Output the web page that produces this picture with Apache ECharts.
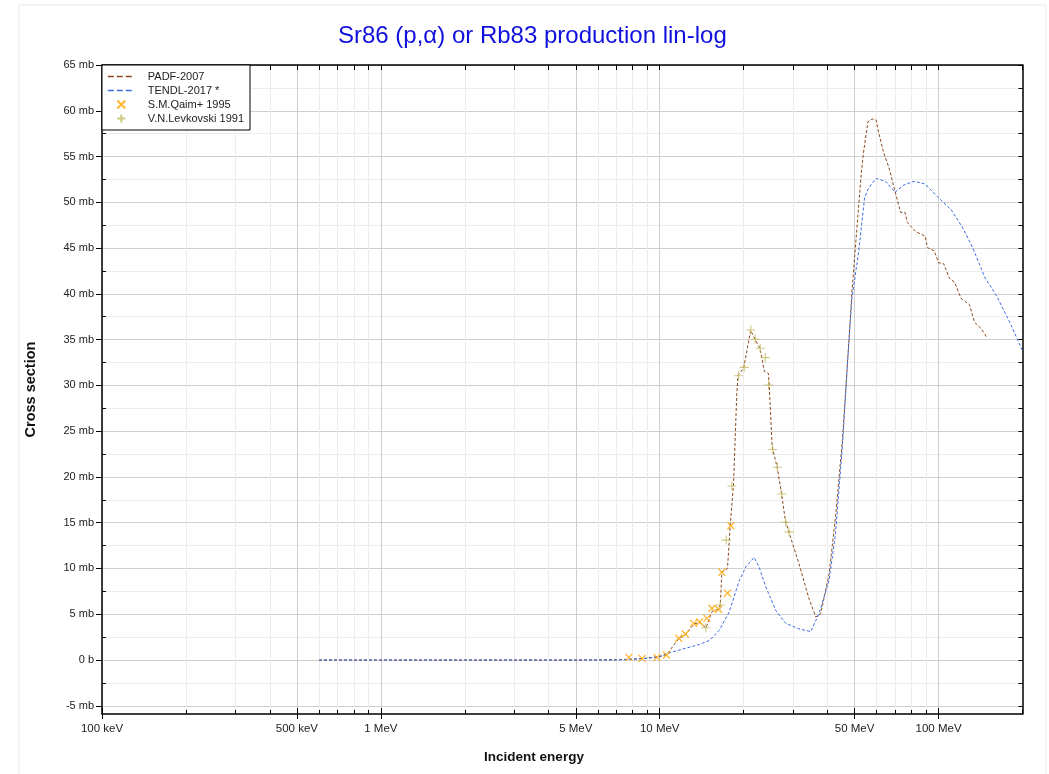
<!DOCTYPE html>
<html><head><meta charset="utf-8">
<script src="https://cdn.jsdelivr.net/npm/echarts@6/dist/echarts.min.js"></script>
<style>html,body{margin:0;padding:0;background:#fff}#c{width:1049px;height:774px}</style>
</head><body><div id="c"></div>
<script>
// ---- data (energy in MeV, cross section in mb) ----
const padfE = [0.6, 1, 2, 5, 7, 8, 9, 10, 10.6, 11.7, 12.4, 13.3, 13.9, 14.65, 15.4, 16.1, 16.5, 16.7, 17.5, 17.9, 18.4, 18.9, 19.1, 20.0, 21.2, 22.0, 22.9, 23.75, 24.55, 24.7, 25.3, 26.4, 27.4, 28.2, 28.9, 31.6, 34.3, 36.3, 37.8, 40.5, 42.7, 45.2, 46.9, 48.9, 50.3, 52.8, 53.9, 55.8, 57.8, 59.7, 61.1, 63.7, 66.4, 69.8, 73.1, 75.8, 77.3, 82.8, 89.5, 91.2, 96.5, 100, 104.3, 109.3, 114, 120.4, 129.1, 134.6, 142.2, 149.2];
const padfS = [0, 0, 0, 0, 0.02, 0.1, 0.2, 0.35, 0.6, 2.35, 2.8, 3.95, 4.1, 3.5, 5.3, 5.5, 6.0, 9.6, 10.0, 14.7, 19.3, 29.1, 31.1, 31.9, 36.0, 35.0, 34.0, 31.5, 31.3, 30.0, 23.3, 21.0, 18.0, 15.3, 14.2, 10.5, 6.7, 4.7, 5.06, 9.4, 15.6, 24.0, 31.4, 40.2, 45.0, 53.1, 55.6, 58.8, 59.1, 59.0, 57.5, 55.3, 53.8, 51.2, 48.9, 48.9, 47.8, 46.8, 46.3, 45.05, 44.7, 43.4, 43.3, 41.7, 41.3, 39.5, 38.8, 36.9, 36.2, 35.2];

const tendlE = [0.6, 1, 2, 5, 7, 8, 9, 10, 10.8, 12.1, 13.9, 15.1, 16.35, 17.75, 19.3, 20.4, 21.8, 22.7, 24.0, 26.1, 28.3, 31.6, 34.8, 37.3, 40.5, 42.7, 45.2, 47.05, 48.9, 51.7, 54.3, 56.2, 59.7, 64.5, 69.8, 75.2, 81.7, 89.5, 99.2, 110.9, 122.2, 132.7, 146.3, 161.3, 180, 200];
const tendlS = [0, 0, 0, 0, 0.02, 0.08, 0.18, 0.4, 0.76, 1.2, 1.7, 2.15, 3.24, 5.24, 8.7, 10.2, 11.2, 10.2, 8.0, 5.4, 4.0, 3.4, 3.1, 5.1, 8.7, 13.8, 23.3, 32.0, 39.5, 44.6, 50.5, 51.6, 52.6, 52.3, 51.1, 51.9, 52.3, 52.0, 50.6, 49.2, 47.2, 45.0, 41.85, 39.8, 36.9, 33.8];

const qaimE = [7.75, 8.64, 9.78, 10.57, 11.7, 12.36, 13.23, 13.9, 14.77, 15.39, 16.26, 16.71, 17.51, 18.0];
const qaimS = [0.29, 0.18, 0.29, 0.55, 2.37, 2.84, 4.0, 4.15, 4.55, 5.65, 5.54, 9.58, 7.29, 14.67];

const levkE = [14.64, 16.48, 17.32, 18.15, 19.17, 20.09, 21.22, 22.0, 22.93, 23.89, 24.55, 25.43, 26.43, 27.39, 28.31, 29.11];
const levkS = [3.53, 6.0, 13.1, 19.0, 31.06, 31.97, 36.05, 35.03, 34.05, 33.03, 30.04, 23.0, 21.05, 18.13, 15.04, 14.0];

const xMajorE = [0.1, 0.5, 1, 5, 10, 50, 100];
const xMajorLabels = ['100 keV', '500 keV', '1 MeV', '5 MeV', '10 MeV', '50 MeV', '100 MeV'];
const yMajor = [-5, 0, 5, 10, 15, 20, 25, 30, 35, 40, 45, 50, 55, 60, 65];
const yMinor = [-2.5, 2.5, 7.5, 12.5, 17.5, 22.5, 27.5, 32.5, 37.5, 42.5, 47.5, 52.5, 57.5, 62.5];
const seriesNames = ['PADF-2007', 'TENDL-2017 *', 'S.M.Qaim+ 1995', 'V.N.Levkovski 1991'];

// ---- axis helpers ----
const xMin = Math.log10(0.1), xMax = Math.log10(200);
const yMin = -5.9, yMax = 65;
const decades = [0.1, 1, 10, 100];
const xAllE = [];
decades.forEach(d => { for (let k = 1; k <= 9; k++) { const v = k * d; if (v <= 200.0001) xAllE.push(v); } });
const lg = v => Math.log10(v);
const xMajor = xMajorE.map(lg);
const xMinor = xAllE.filter(v => !xMajorE.some(m => Math.abs(m - v) < 1e-9)).map(lg);
const xAll = xAllE.map(lg);
const yAll = yMajor.concat(yMinor).sort((a, b) => a - b);

const baseFont = '"Liberation Sans", Arial, Helvetica, sans-serif';
const pairs = (E, S) => E.map((e, i) => [lg(e), S[i]]);

const xCommon = { type: 'value', min: xMin, max: xMax, gridIndex: 0 };
const yCommon = { type: 'value', min: yMin, max: yMax, gridIndex: 0 };

const chart = echarts.init(document.getElementById('c'), null, { renderer: 'canvas' });
chart.setOption({
  animation: false,
  backgroundColor: '#fff',
  title: {
    text: 'Sr86 (p,\u03b1) or Rb83 production lin-log',
    left: 333, top: 19,
    textStyle: { color: '#1010dd', fontSize: 24, fontWeight: 'normal', fontFamily: baseFont }
  },
  grid: { left: 102, right: 26.5, top: 65, bottom: 60, containLabel: false },
  legend: {
    orient: 'vertical', left: 102, top: 65,
    padding: [6, 6, 6, 5], itemGap: 3, itemWidth: 27, itemHeight: 8,
    backgroundColor: '#fff', borderColor: '#000', borderWidth: 1, borderRadius: 0,
    lineStyle: { type: [6, 3], width: 1.6 },
    textStyle: { fontSize: 11, color: '#222', fontFamily: baseFont, padding: [0, 0, 0, 8] },
    data: seriesNames, z: 10
  },
  xAxis: [
    Object.assign({}, xCommon, {
      position: 'bottom',
      axisLine: { show: true, onZero: false, lineStyle: { color: '#000', width: 1.5 } },
      axisTick: { show: true, inside: false, length: 5, customValues: xMajor, lineStyle: { color: '#000' } },
      axisLabel: {
        show: true, customValues: xMajor, margin: 9, color: '#222', fontSize: 11.5, fontFamily: baseFont,
        formatter: v => { const i = xMajor.findIndex(m => Math.abs(m - v) < 1e-6); return i >= 0 ? xMajorLabels[i] : ''; }
      },
      splitLine: { show: true, lineStyle: { color: '#cfcfcf', width: 1 } }
    }),
    Object.assign({}, xCommon, {
      position: 'bottom',
      axisLine: { show: false, onZero: false },
      axisTick: { show: true, inside: true, length: 4, customValues: xMinor, lineStyle: { color: '#000' } },
      axisLabel: { show: false },
      splitLine: { show: true, lineStyle: { color: '#ededed', width: 1 } }
    }),
    Object.assign({}, xCommon, {
      position: 'bottom',
      axisLine: { show: false, onZero: false },
      axisTick: { show: true, inside: true, length: 6, customValues: xMajor, lineStyle: { color: '#000' } },
      axisLabel: { show: false },
      splitLine: { show: false }
    }),
    Object.assign({}, xCommon, {
      position: 'top',
      axisLine: { show: true, onZero: false, lineStyle: { color: '#000', width: 1.5 } },
      axisTick: { show: true, inside: true, length: 5, customValues: xAll, lineStyle: { color: '#000' } },
      axisLabel: { show: false },
      splitLine: { show: false }
    })
  ],
  yAxis: [
    Object.assign({}, yCommon, {
      position: 'left',
      name: 'Cross section', nameLocation: 'middle', nameGap: 64,
      nameTextStyle: { fontWeight: 'bold', fontSize: 14.5, color: '#111', fontFamily: baseFont },
      axisLine: { show: true, onZero: false, lineStyle: { color: '#000', width: 1.5 } },
      axisTick: { show: true, inside: false, length: 6, customValues: yMajor, lineStyle: { color: '#000' } },
      axisLabel: {
        show: true, customValues: yMajor, margin: 8, color: '#222', fontSize: 11, fontFamily: baseFont,
        formatter: v => (Math.abs(v) < 1e-9 ? '0 b' : v + ' mb')
      },
      splitLine: { show: true, lineStyle: { color: '#cfcfcf', width: 1 } }
    }),
    Object.assign({}, yCommon, {
      position: 'left',
      axisLine: { show: false, onZero: false },
      axisTick: { show: true, inside: true, length: 4, customValues: yMinor, lineStyle: { color: '#000' } },
      axisLabel: { show: false },
      splitLine: { show: true, lineStyle: { color: '#ededed', width: 1 } }
    }),
    Object.assign({}, yCommon, {
      position: 'right',
      axisLine: { show: true, onZero: false, lineStyle: { color: '#000', width: 1.5 } },
      axisTick: { show: true, inside: true, length: 4, customValues: yAll, lineStyle: { color: '#000' } },
      axisLabel: { show: false },
      splitLine: { show: false }
    })
  ],
  graphic: [
    { type: 'rect', silent: true, z: -10, shape: { x: 19, y: 5, width: 1027, height: 800 },
      style: { fill: 'none', stroke: '#e9e9e9', lineWidth: 1 } },
    { type: 'text', silent: true, x: 534, y: 757,
      style: { text: 'Incident energy', fontSize: 13.5, fontWeight: 'bold', fontFamily: baseFont,
               fill: '#111', align: 'center', verticalAlign: 'middle' } }
  ],
  series: [
    { name: seriesNames[0], type: 'line', xAxisIndex: 0, yAxisIndex: 0, data: pairs(padfE, padfS),
      showSymbol: false, symbol: 'none', clip: true, z: 3,
      lineStyle: { color: '#8b4a1c', width: 1, type: [3, 2] },
      itemStyle: { color: 'rgba(0,0,0,0)', borderWidth: 0 } },
    { name: seriesNames[1], type: 'line', xAxisIndex: 0, yAxisIndex: 0, data: pairs(tendlE, tendlS),
      showSymbol: false, symbol: 'none', clip: true, z: 3,
      lineStyle: { color: '#3d6be3', width: 1, type: [3, 2] },
      itemStyle: { color: 'rgba(0,0,0,0)', borderWidth: 0 } },
    { name: seriesNames[2], type: 'scatter', xAxisIndex: 0, yAxisIndex: 0, data: pairs(qaimE, qaimS),
      symbol: 'path://M0,0L10,10M10,0L0,10', symbolSize: 7, z: 4,
      itemStyle: { color: '#ffa500', borderColor: '#ffa500', borderWidth: 1.3 } },
    { name: seriesNames[3], type: 'scatter', xAxisIndex: 0, yAxisIndex: 0, data: pairs(levkE, levkS),
      symbol: 'path://M5,0L5,10M0,5L10,5', symbolSize: 9, z: 4,
      itemStyle: { color: '#c2b862', borderColor: '#c2b862', borderWidth: 1.1 } }
  ]
});
</script>
</body></html>
